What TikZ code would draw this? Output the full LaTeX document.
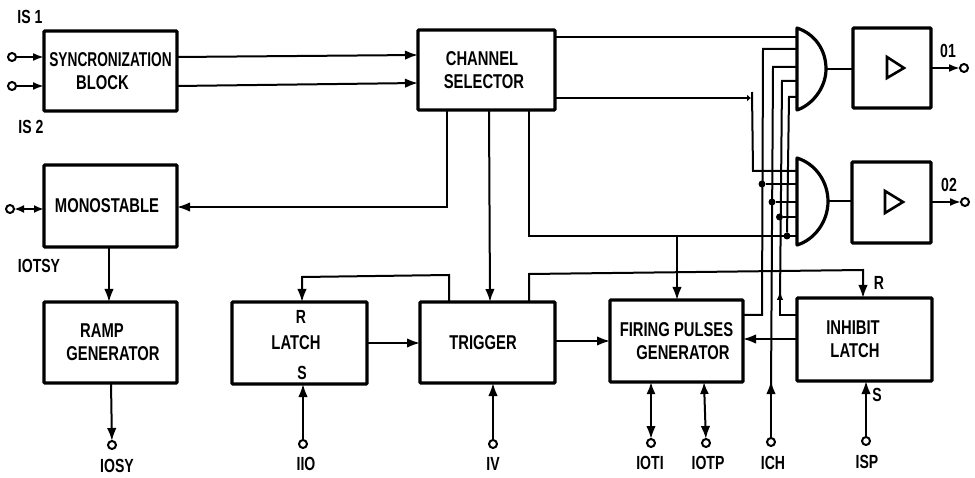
\documentclass[tikz,border=0pt]{standalone}
\usepackage{fontspec}
\setmainfont[FakeStretch=0.74]{Liberation Sans}
\newfontface\syncface[FakeStretch=0.685]{Liberation Sans Bold}
\usetikzlibrary{arrows.meta}
\tikzset{
  blockbox/.style={draw,line width=3.4pt,rounded corners=1pt,inner sep=0pt,outer sep=0pt,align=center,font=\bfseries\fontsize{20}{23}\selectfont},
  gatebox/.style={inner sep=0pt,outer sep=0pt,minimum width=29pt},
  gateline/.style={line width=3.2pt,line join=round,line cap=round},
  wire/.style={line width=2pt,line join=miter},
  arr/.style={wire,-{Latex[length=13pt,width=9.5pt]}},
  arrs/.style={wire,-{Latex[length=11pt,width=8pt]}},
  arrb/.style={wire,{Latex[length=12pt,width=9pt]}-{Latex[length=13pt,width=9.5pt]}},
  term/.style={circle,draw,line width=2pt,fill=white,minimum size=8pt,inner sep=0pt,outer sep=0pt},
  jdot/.style={circle,fill=black,minimum size=7pt,inner sep=0pt,outer sep=0pt},
  lbl/.style={inner sep=0pt,outer sep=0pt,font=\bfseries\fontsize{19}{20}\selectfont},
  tri/.style={line width=2.6pt,line join=miter}
}
\begin{document}
\begin{tikzpicture}[x=1pt,y=-1pt]
\useasboundingbox (0,0) rectangle (975,478);
% blocks
\node[blockbox,minimum width=133pt,minimum height=80pt] (sync) at (110.5,71) {{\syncface SYNCRONIZATION}\\\hspace*{-16pt}BLOCK};
\node[blockbox,minimum width=133pt,minimum height=82pt] (mono) at (110.5,206) {\hspace*{-7pt}MONOSTABLE};
\node[blockbox,minimum width=133pt,minimum height=81pt] (ramp) at (110.5,342.5) {\hspace*{-17pt}RAMP\\\hspace*{5pt}GENERATOR};
\node[blockbox,minimum width=135pt,minimum height=82pt] (latch) at (299.5,343) {\hspace*{-7pt}LATCH};
\node[blockbox,minimum width=135pt,minimum height=81pt] (trig) at (487.5,342.5) {\hspace*{-9pt}TRIGGER};
\node[blockbox,minimum width=137pt,minimum height=80pt] (chan) at (486.5,70) {\hspace*{-9pt}CHANNEL\\\hspace*{-5pt}SELECTOR};
\node[blockbox,minimum width=133pt,minimum height=82pt] (fire) at (676.5,341) {FIRING PULSES\\\hspace*{13pt}GENERATOR};
\node[blockbox,minimum width=135pt,minimum height=83pt] (inh) at (864.5,339.5) {\hspace*{-23pt}INHIBIT\\\hspace*{-19pt}LATCH};
\node[blockbox,minimum width=78pt,minimum height=80pt] (buf1) at (892,68) {};
\node[blockbox,minimum width=79pt,minimum height=81pt] (buf2) at (891.5,202.5) {};
% buffer triangles
\draw[tri] (887,57) -- (904,68) -- (887,78) -- cycle;
\draw[tri] (885,191) -- (903,202) -- (885,213) -- cycle;
% gates
\node[gatebox,minimum height=82pt] (g1) at (811.5,69) {};
\node[gatebox,minimum width=31pt,minimum height=87pt] (g2) at (812.5,201.5) {};
\draw[gateline] (g1.north west) .. controls (815,34) and (826,50) .. (g1.east)
   .. controls (826,88) and (812,105) .. (g1.south west) -- cycle;
\draw[gateline] (g2.north west) .. controls (816,164) and (828,182) .. (g2.east)
   .. controls (828,222) and (814,240) .. (g2.south west) -- cycle;
% terminals
\node[term] (tA) at (12,57) {};
\node[term] (tB) at (12,86) {};
\node[term] (tC) at (10,209) {};
\node[term] (tD) at (112,445) {};
\node[term] (tE) at (303,444) {};
\node[term] (tF) at (493,444) {};
\node[term] (tG) at (651,443) {};
\node[term] (tH) at (706,443) {};
\node[term] (tI) at (771,442) {};
\node[term] (tJ) at (866,441) {};
\node[term] (tK) at (964,68) {};
\node[term] (tL) at (965,202) {};
% junction dots
\node[jdot] (d1) at (762,184) {};
\node[jdot] (d2) at (772,202) {};
\node[jdot] (d3) at (779.5,217) {};
\node[jdot] (d4) at (787,236) {};
% connectors: left column
\draw[arrs] (tA) -- (sync.west |- tA);
\draw[arrs] (tB) -- (sync.west |- tB);
\draw[arr] (sync.east |- 0,57) -- (chan.west |- 0,55);
\draw[arr] (sync.east |- 0,86) -- (chan.west |- 0,83);
\draw[wire,{Latex[length=10pt,width=8pt]}-{Latex[length=10pt,width=8pt]}] (tC) -- (mono.west |- tC);
\draw[arr] (chan.south -| 447,0) -- (447,207) -- (mono.east |- 0,207);
\draw[arr] (mono.south -| 109,0) -- (ramp.north -| 109,0);
\draw[arr] (ramp.south -| 111,0) -- (tD);
% middle row
\draw[arr] (trig.north -| 449,0) -- (449,275) -- (302,277) -- (latch.north -| 302,0);
\draw[arr] (latch.east |- 0,343) -- (trig.west |- 0,343);
\draw[arr] (trig.east |- 0,341) -- (fire.west |- 0,341);
\draw[arr] (tE) -- (latch.south -| tE);
\draw[arr] (tF) -- (trig.south -| tF);
\draw[arr] (chan.south -| 489,0) -- (trig.north -| 490,0);
\draw[arr] (trig.north -| 529,0) -- (529,274) -- (863,270) -- (inh.north -| 863,0);
\draw[arrb] (fire.south -| tG) -- (tG);
\draw[arrb] (fire.south -| 704,0) -- (tH);
\draw[arr] (tJ) -- (inh.south -| tJ);
\draw[arr] (inh.west |- 0,339) -- (fire.east |- 0,339);
% gate inputs
\draw[wire] (chan.east |- 0,37) -- (g1.west |- 0,37);
\draw[wire] (fire.east |- 0,315) -- (762,315) -- (763,49) -- (g1.west |- 0,49);
\draw[arr] (tI) -- (771,381);
\draw[wire] (771,390) -- (773,67) -- (g1.west |- 0,67);
\draw[wire,-{Latex[length=9pt,width=6.5pt]}] (inh.west |- 0,315) -- (780,315) -- (780,291);
\draw[wire] (780,300) -- (782,81) -- (g1.west |- 0,81);
\draw[wire] (g1.west |- 0,97) -- (789,97) -- (d4);
\draw[wire,-{Latex[length=4pt,width=7pt]}] (chan.east |- 0,98) -- (751,98);
\draw[wire] (752,92) -- (753,171) -- (g2.west |- 0,171);
\draw[wire] (chan.south -| 529,0) -- (529,236) -- (g2.west |- 0,236);
\draw[arr] (677,236) -- (fire.north -| 677,0);
\draw[wire] (d1) -- (g2.west |- d1);
\draw[wire] (d2) -- (g2.west |- d2);
\draw[wire] (d3) -- (g2.west |- d3);
% outputs
\draw[wire] (g1.east) -- (buf1.west |- g1.east);
\draw[wire] (g2.east) -- (buf2.west |- g2.east);
\draw[arrs] (buf1.east |- tK) -- (tK);
\draw[arrs] (buf2.east |- tL) -- (tL);
% labels
\node[lbl] (lA) at (30,17) {IS 1};
\node[lbl] (lB) at (31,127) {IS 2};
\node[lbl] (lC) at (39,266) {IOTSY};
\node[lbl] (lD) at (117,466) {IOSY};
\node[lbl] (lE) at (306,464) {IIO};
\node[lbl] (lF) at (493,464) {IV};
\node[lbl] (lG) at (650,463) {IOTI};
\node[lbl] (lH) at (708,463) {IOTP};
\node[lbl] (lI) at (773,463) {ICH};
\node[lbl] (lJ) at (867,462) {ISP};
\node[lbl] (lK) at (948,51) {01};
\node[lbl] (lL) at (949,185) {02};
\node[lbl] (lM) at (301,317) {R};
\node[lbl] (lN) at (302,373) {S};
\node[lbl] (lO) at (879,283) {R};
\node[lbl] (lP) at (877,395) {S};
\end{tikzpicture}
\end{document}
